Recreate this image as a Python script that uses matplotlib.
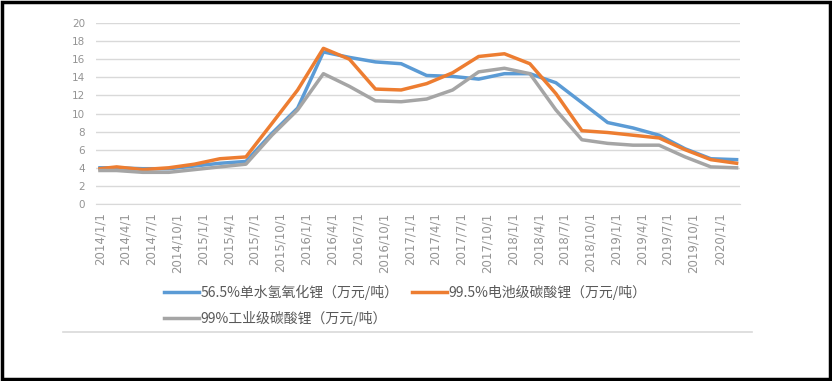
import matplotlib
matplotlib.use("Agg")
import matplotlib.pyplot as plt
import pandas as pd
from matplotlib.patches import Rectangle
from matplotlib.lines import Line2D

plt.rcParams['font.family'] = ['Noto Sans CJK SC', 'DejaVu Sans']

# sample dates (first point, then roughly every quarter)
dates = ["2014-01-01", "2014-03-01", "2014-06-01", "2014-09-01", "2014-12-01",
         "2015-03-01", "2015-06-01", "2015-09-01", "2015-12-01",
         "2016-03-01", "2016-06-01", "2016-09-01", "2016-12-01",
         "2017-03-01", "2017-06-01", "2017-09-01", "2017-12-01",
         "2018-03-01", "2018-06-01", "2018-09-01", "2018-12-01",
         "2019-03-01", "2019-06-01", "2019-09-01", "2019-12-01",
         "2020-03-01"]

lioh = [4.0, 4.0, 3.9, 3.9, 4.2, 4.5, 4.7, 7.8, 10.6, 16.8, 16.2, 15.7, 15.5,
        14.2, 14.1, 13.8, 14.4, 14.4, 13.4, 11.2, 9.0, 8.4, 7.6, 6.1, 5.0, 4.9]
li2co3_battery = [3.9, 4.1, 3.8, 4.0, 4.4, 5.0, 5.2, 8.9, 12.6, 17.2, 16.0, 12.7, 12.6,
                  13.3, 14.5, 16.3, 16.6, 15.5, 12.2, 8.1, 7.9, 7.6, 7.3, 6.0, 4.9, 4.5]
li2co3_industrial = [3.7, 3.7, 3.5, 3.5, 3.8, 4.1, 4.4, 7.6, 10.4, 14.4, 13.0, 11.4, 11.3,
                     11.6, 12.6, 14.6, 15.0, 14.4, 10.4, 7.1, 6.7, 6.5, 6.5, 5.2, 4.1, 4.0]

series_names = ["56.5%单水氢氧化锂（万元/吨）", "99.5%电池级碳酸锂（万元/吨）", "99%工业级碳酸锂（万元/吨）"]
colors = ["#5B9BD5", "#ED7D31", "#A5A5A5"]

tick_dates = pd.date_range("2014-01-01", "2020-01-01", freq="QS")
tick_labels = [f"{d.year}/{d.month}/{d.day}" for d in tick_dates]

x = pd.to_datetime(dates)

fig = plt.figure(figsize=(8.32, 3.81), dpi=100)
ax = fig.add_axes([96 / 832, 1 - 204 / 381, (740 - 96) / 832, (204 - 23) / 381])

lines = []
for vals, name, c in zip([lioh, li2co3_battery, li2co3_industrial], series_names, colors):
    ln, = ax.plot(x, vals, color=c, lw=2.5, label=name, solid_joinstyle="round")
    lines.append(ln)

ax.set_ylim(0, 20)
ax.set_yticks(range(0, 21, 2))
ax.set_xlim(pd.Timestamp("2014-01-01") - pd.Timedelta(days=14),
            pd.Timestamp("2014-01-01") + pd.Timedelta(days=2263))
ax.set_xticks(tick_dates)
ax.set_xticklabels(tick_labels, rotation=90)

ax.grid(axis="y", color="#d9d9d9", lw=1)
ax.set_axisbelow(True)
for s in ["top", "right", "left"]:
    ax.spines[s].set_visible(False)
ax.spines["bottom"].set_color("#d9d9d9")
ax.tick_params(length=0, colors="#949494")
ax.tick_params(axis="y", pad=8, labelsize=7.5)
ax.tick_params(axis="x", pad=6, labelsize=8.5)
for lab in ax.get_xticklabels() + ax.get_yticklabels():
    lab.set_family("DejaVu Sans")

# legend rows: blue, orange / gray
leg = fig.legend([lines[0], lines[2], lines[1]],
                 [series_names[0], series_names[2], series_names[1]],
                 ncol=2, loc="upper left", bbox_to_anchor=(164 / 832, 1 - 285 / 381),
                 frameon=False, fontsize=10, handlelength=2.5, handletextpad=0.1,
                 columnspacing=1.0, labelspacing=0.75, borderpad=0, borderaxespad=0)
for t in leg.get_texts():
    t.set_color("#595959")

fig.add_artist(Line2D([63 / 832, 752 / 832], [1 - 332 / 381, 1 - 332 / 381],
                      color="#d9d9d9", lw=1.2, transform=fig.transFigure))
fig.add_artist(Rectangle((0.002, 0.004), 0.996, 0.992, fill=False, edgecolor="black",
                         lw=2.5, transform=fig.transFigure))

fig.savefig("out.png", dpi=100)
